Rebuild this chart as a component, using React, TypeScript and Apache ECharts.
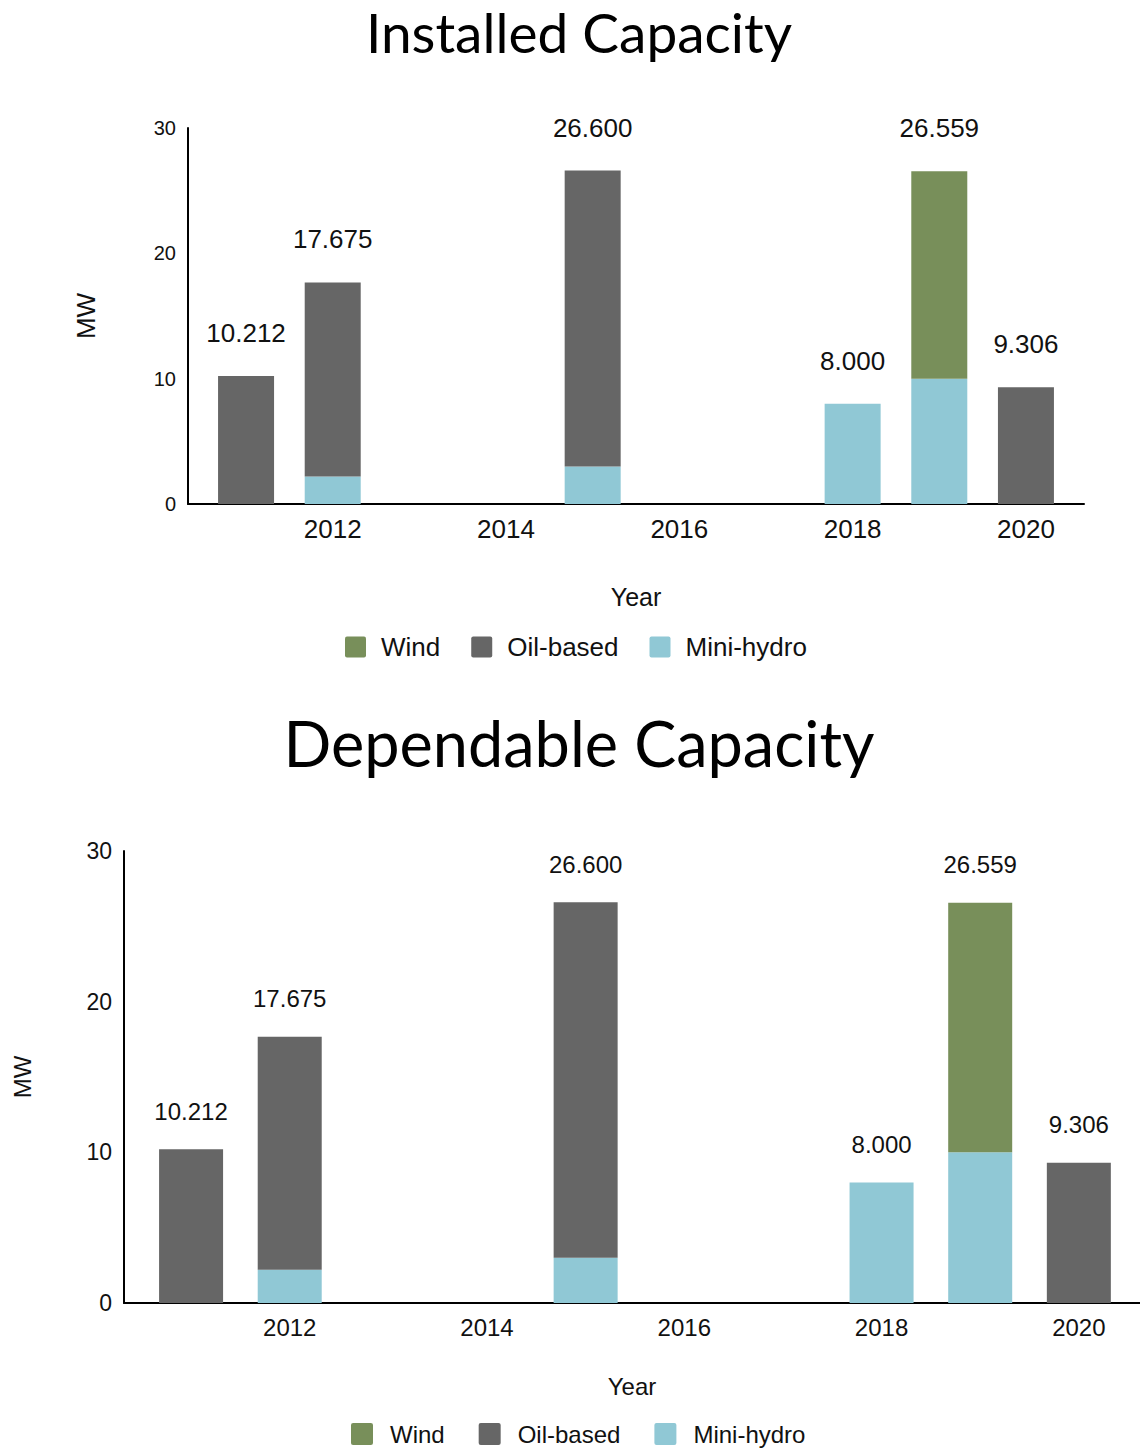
import { useEffect, useRef } from "react";
import * as echarts from "echarts";

// Commissioning years of the generating units
const years = [2011, 2012, 2015, 2018, 2019, 2020];

// Installed capacity by source (MW)
const installedHydro = [null, 2.2, 3.0, 8.0, 10.0, null];
const installedOil = [10.212, 15.475, 23.6, null, null, 9.306];
const installedWind = [null, null, null, null, 16.559, null];

// Dependable capacity by source (MW)
const dependableHydro = [null, 2.2, 3.0, 8.0, 10.0, null];
const dependableOil = [10.212, 15.475, 23.6, null, null, 9.306];
const dependableWind = [null, null, null, null, 16.559, null];

const yearTicks = [2012, 2014, 2016, 2018, 2020];
const mwTicks = [0, 10, 20, 30];
const legendNames = ["Wind", "Oil-based", "Mini-hydro"];

const COLORS: Record<string, string> = {
  Wind: "#788f5a",
  "Oil-based": "#666666",
  "Mini-hydro": "#90c8d5",
};

const FONT = "'Liberation Sans', Arial, Helvetica, sans-serif";
const TITLE_FONT = "Lato, 'Noto Sans', sans-serif";

// Square legend swatch with softly rounded corners
const SWATCH =
  "path://M2,0 H19 Q21,0 21,2 V19 Q21,21 19,21 H2 Q0,21 0,19 V2 Q0,0 2,0 Z";

type Layer = { name: string; values: (number | null)[] };

// Stacked bars for one panel; the topmost segment of each year carries the total.
// Each row is [MW, year] so that the MW column is the one ECharts stacks.
function buildSeries(
  layers: Layer[],
  axisIndex: number,
  barWidth: number,
  labelSize: number,
  labelDistance: number
) {
  const totals = years.map((_, i) =>
    layers.reduce((s, l) => s + (l.values[i] ?? 0), 0)
  );
  const topLayer = years.map((_, i) => {
    let top = -1;
    layers.forEach((l, k) => {
      if (l.values[i] != null) top = k;
    });
    return top;
  });
  return layers.map((l, k) => ({
    type: "bar",
    name: l.name,
    stack: "panel" + axisIndex,
    xAxisIndex: axisIndex,
    yAxisIndex: axisIndex,
    dimensions: ["mw", "year"],
    encode: { x: "year", y: "mw" },
    barWidth,
    itemStyle: { color: COLORS[l.name] },
    data: years.map((y, i) => ({
      value: [l.values[i] == null ? "-" : l.values[i], y],
      label:
        topLayer[i] === k
          ? {
              show: true,
              position: "top",
              distance: labelDistance,
              formatter: totals[i].toFixed(3),
              fontSize: labelSize,
              fontFamily: FONT,
              color: "#111",
            }
          : { show: false },
    })),
  }));
}

function xAxisFor(
  gridIndex: number,
  min: number,
  max: number,
  fontSize: number,
  nameGap: number,
  nameSize: number
) {
  return {
    type: "value",
    gridIndex,
    min,
    max,
    name: "Year",
    nameLocation: "middle",
    nameGap,
    nameTextStyle: { fontSize: nameSize, fontFamily: FONT, color: "#111" },
    axisLine: { show: true, lineStyle: { color: "#000", width: 2 } },
    axisTick: { show: false },
    splitLine: { show: false },
    axisLabel: {
      customValues: yearTicks,
      formatter: (v: number) => String(Math.round(v)),
      fontSize,
      fontFamily: FONT,
      color: "#111",
      margin: 12,
    },
  };
}

function yAxisFor(gridIndex: number, fontSize: number, nameGap: number, nameSize: number) {
  return {
    type: "value",
    gridIndex,
    min: 0,
    max: 30,
    name: "MW",
    nameLocation: "middle",
    nameGap,
    nameTextStyle: { fontSize: nameSize, fontFamily: FONT, color: "#111" },
    axisLine: { show: true, lineStyle: { color: "#000", width: 2 } },
    axisTick: { show: false },
    splitLine: { show: false },
    axisLabel: {
      customValues: mwTicks,
      fontSize,
      fontFamily: FONT,
      color: "#111",
      margin: 12,
    },
  };
}

export default function App() {
  const ref = useRef<HTMLDivElement>(null);

  useEffect(() => {
    document.body.style.margin = "0";
    if (!ref.current) return;
    const chart = echarts.init(ref.current, null, { renderer: "svg" });

    const series = [
      ...buildSeries(
        [
          { name: "Mini-hydro", values: installedHydro },
          { name: "Oil-based", values: installedOil },
          { name: "Wind", values: installedWind },
        ],
        0,
        56,
        26,
        30
      ),
      ...buildSeries(
        [
          { name: "Mini-hydro", values: dependableHydro },
          { name: "Oil-based", values: dependableOil },
          { name: "Wind", values: dependableWind },
        ],
        1,
        64,
        24,
        26
      ),
    ];

    chart.setOption({
      animation: false,
      backgroundColor: "#ffffff",
      graphic: [
        {
          type: "text",
          x: 579,
          y: 32,
          style: {
            text: "Installed Capacity",
            font: `55px ${TITLE_FONT}`,
            fill: "#000",
            textAlign: "center",
            textVerticalAlign: "middle",
          },
        },
        {
          type: "text",
          x: 579,
          y: 742,
          style: {
            text: "Dependable Capacity",
            font: `63px ${TITLE_FONT}`,
            fill: "#000",
            textAlign: "center",
            textVerticalAlign: "middle",
          },
        },
      ],
      legend: [
        {
          data: legendNames,
          left: 340,
          top: 629,
          itemWidth: 21,
          itemHeight: 21,
          itemGap: 31,
          icon: SWATCH,
          selectedMode: false,
          textStyle: { fontSize: 26, fontFamily: FONT, color: "#111", padding: [0, 0, 0, 10] },
        },
        {
          data: legendNames,
          left: 346,
          top: 1417,
          itemWidth: 22,
          itemHeight: 22,
          itemGap: 34,
          icon: SWATCH,
          selectedMode: false,
          textStyle: { fontSize: 24, fontFamily: FONT, color: "#111", padding: [0, 0, 0, 12] },
        },
      ],
      grid: [
        { left: 188, width: 896, top: 128, height: 376 },
        { left: 124, right: 0, top: 851, height: 452 },
      ],
      xAxis: [
        xAxisFor(0, 2010.33, 2020.67, 26, 80, 25),
        xAxisFor(1, 2010.32, 2020.62, 24, 71, 24),
      ],
      yAxis: [yAxisFor(0, 20, 89, 26), yAxisFor(1, 23, 90, 24)],
      series,
    });

    return () => chart.dispose();
  }, []);

  return <div ref={ref} style={{ width: 1140, height: 1452 }} />;
}
